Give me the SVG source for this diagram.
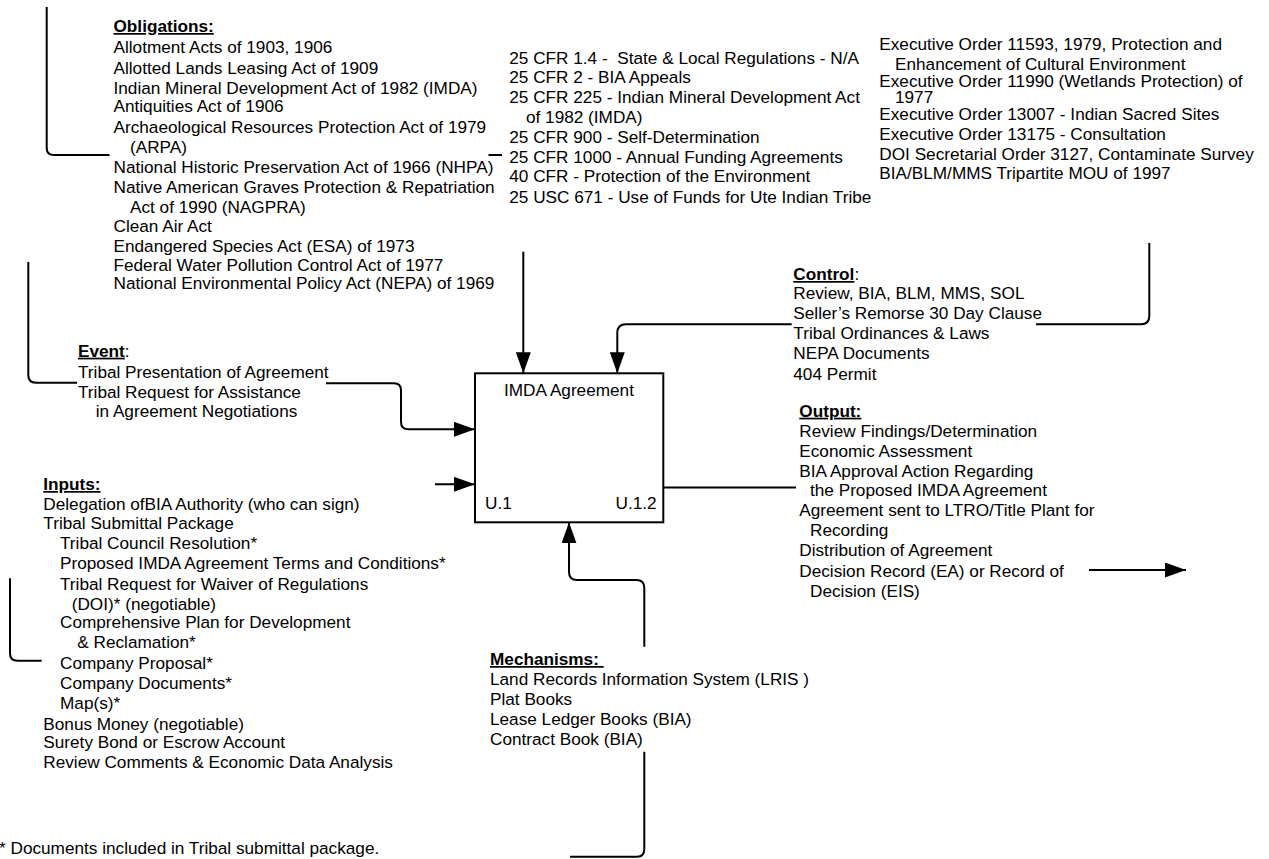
<svg xmlns="http://www.w3.org/2000/svg" width="1269" height="859" viewBox="0 0 1269 859">
  <style>
    .t { font-family: "Liberation Sans", Arial, Helvetica, sans-serif; font-size: 17.2px; fill: #000; }
    .h { font-weight: bold; text-decoration: underline; }
    .c { fill: none; stroke: #000; stroke-width: 2; }
    .a { marker-end: url(#arrow); }
    .box { fill: #fff; stroke: #000; stroke-width: 2; }
  </style>
  <defs>
    <marker id="arrow" markerUnits="userSpaceOnUse" markerWidth="21" markerHeight="15" refX="21" refY="7.5" orient="auto">
      <path d="M0,0 L21,7.5 L0,15 z" fill="#000"/>
    </marker>
  </defs>

  <rect width="1269" height="859" fill="#fff"/>

  <!-- connectors -->
  <g id="connectors">
    <!-- obligations bracket and feed into the box top -->
    <path class="c" d="M46.7,7 V148 Q46.7,155 54,155 H109.5"/>
    <path class="c" d="M488.5,155 H502"/>
    <path class="c a" d="M523.3,251.7 V373.3"/>
    <!-- control feed -->
    <path class="c" d="M1149.3,243 V316 Q1149.3,324.3 1141,324.3 H1036"/>
    <path class="c a" d="M791.7,324.3 H626 Q617.3,324.3 617.3,333 V373.3"/>
    <!-- event feed -->
    <path class="c" d="M28.3,262 V375 Q28.3,382.7 36,382.7 H77"/>
    <path class="c a" d="M326,383.3 H394 Q401,383.3 401,390.5 V422 Q401,429.3 408.5,429.3 H475"/>
    <!-- inputs feed -->
    <path class="c" d="M10,578.3 V653.5 Q10,660.7 17.5,660.7 H41.7"/>
    <path class="c a" d="M435,484.3 H475"/>
    <!-- output -->
    <path class="c" d="M663.3,487.5 H796"/>
    <path class="c a" d="M1089,570 H1186"/>
    <!-- mechanisms feed into the box bottom -->
    <path class="c" d="M570,856.7 H637 Q644.3,856.7 644.3,849 V751.7"/>
    <path class="c a" d="M644.3,646.7 V588 Q644.3,580 636.5,580 H577 Q569,580 569,572 V522.3"/>
  </g>

  <!-- activity box -->
  <g id="imda-agreement">
    <rect class="box" x="475" y="373.3" width="188.3" height="149"/>
    <text class="t" x="569" y="396" text-anchor="middle">IMDA Agreement</text>
    <text class="t" x="485" y="509">U.1</text>
    <text class="t" x="656.7" y="508.5" text-anchor="end">U.1.2</text>
  </g>

  <g id="obligations">
    <text class="t">
      <tspan class="h" x="113.5" y="32">Obligations:</tspan>
      <tspan x="113.5" y="53">Allotment Acts of 1903, 1906</tspan>
      <tspan x="113.5" y="74">Allotted Lands Leasing Act of 1909</tspan>
      <tspan x="113.5" y="94">Indian Mineral Development Act of 1982 (IMDA)</tspan>
      <tspan x="113.5" y="111.5">Antiquities Act of 1906</tspan>
      <tspan x="113.5" y="133">Archaeological Resources Protection Act of 1979</tspan>
      <tspan x="130" y="153">(ARPA)</tspan>
      <tspan x="113.5" y="173">National Historic Preservation Act of 1966 (NHPA)</tspan>
      <tspan x="113.5" y="192.5">Native American Graves Protection &amp; Repatriation</tspan>
      <tspan x="130" y="213">Act of 1990 (NAGPRA)</tspan>
      <tspan x="113.5" y="231.5">Clean Air Act</tspan>
      <tspan x="113.5" y="251.5">Endangered Species Act (ESA) of 1973</tspan>
      <tspan x="113.5" y="270.5">Federal Water Pollution Control Act of 1977</tspan>
      <tspan x="113.5" y="289">National Environmental Policy Act (NEPA) of 1969</tspan>
    </text>
  </g>

  <g id="regulations">
    <text class="t" x="509.3" y="64" xml:space="preserve">25 CFR 1.4 -  State &amp; Local Regulations - N/A</text>
    <text class="t">
      <tspan x="509.3" y="82.5">25 CFR 2 - BIA Appeals</tspan>
      <tspan x="509.3" y="103.3">25 CFR 225 - Indian Mineral Development Act</tspan>
      <tspan x="526" y="123.3">of 1982 (IMDA)</tspan>
      <tspan x="509.3" y="143.3">25 CFR 900 - Self-Determination</tspan>
      <tspan x="509.3" y="163.3">25 CFR 1000 - Annual Funding Agreements</tspan>
      <tspan x="509.3" y="181.7">40 CFR - Protection of the Environment</tspan>
      <tspan x="509.3" y="202.7">25 USC 671 - Use of Funds for Ute Indian Tribe</tspan>
    </text>
  </g>

  <g id="executive-orders">
    <text class="t">
      <tspan x="879.3" y="50">Executive Order 11593, 1979, Protection and</tspan>
      <tspan x="895" y="70">Enhancement of Cultural Environment</tspan>
      <tspan x="879.3" y="87.3">Executive Order 11990 (Wetlands Protection) of</tspan>
      <tspan x="895" y="102.7">1977</tspan>
      <tspan x="879.3" y="120">Executive Order 13007 - Indian Sacred Sites</tspan>
      <tspan x="879.3" y="140">Executive Order 13175 - Consultation</tspan>
      <tspan x="879.3" y="160">DOI Secretarial Order 3127, Contaminate Survey</tspan>
      <tspan x="879.3" y="179">BIA/BLM/MMS Tripartite MOU of 1997</tspan>
    </text>
  </g>

  <g id="control">
    <text class="t" x="793.3" y="280"><tspan class="h">Control</tspan>:</text>
    <text class="t">
      <tspan x="793.3" y="299.3">Review, BIA, BLM, MMS, SOL</tspan>
      <tspan x="793.3" y="318.5">Seller’s Remorse 30 Day Clause</tspan>
      <tspan x="793.3" y="339">Tribal Ordinances &amp; Laws</tspan>
      <tspan x="793.3" y="359">NEPA Documents</tspan>
      <tspan x="793.3" y="380">404 Permit</tspan>
    </text>
  </g>

  <g id="output">
    <text class="t">
      <tspan class="h" x="799.3" y="416.7">Output:</tspan>
      <tspan x="799.3" y="436.7">Review Findings/Determination</tspan>
      <tspan x="799.3" y="456.7">Economic Assessment</tspan>
      <tspan x="799.3" y="476.7">BIA Approval Action Regarding</tspan>
      <tspan x="810" y="495.7">the Proposed IMDA Agreement</tspan>
      <tspan x="799.3" y="516">Agreement sent to LTRO/Title Plant for</tspan>
      <tspan x="810" y="536">Recording</tspan>
      <tspan x="799.3" y="555.7">Distribution of Agreement</tspan>
      <tspan x="799.3" y="576.7">Decision Record (EA) or Record of</tspan>
      <tspan x="810" y="596.7">Decision (EIS)</tspan>
    </text>
  </g>

  <g id="event">
    <text class="t" x="78" y="356.7"><tspan class="h">Event</tspan>:</text>
    <text class="t">
      <tspan x="78" y="378.3">Tribal Presentation of Agreement</tspan>
      <tspan x="78" y="397.7">Tribal Request for Assistance</tspan>
      <tspan x="95.7" y="416.7">in Agreement Negotiations</tspan>
    </text>
  </g>

  <g id="inputs">
    <text class="t">
      <tspan class="h" x="43.3" y="490">Inputs:</tspan>
      <tspan x="43.3" y="510">Delegation ofBIA Authority (who can sign)</tspan>
      <tspan x="43.3" y="529.3">Tribal Submittal Package</tspan>
      <tspan x="60" y="549.3">Tribal Council Resolution*</tspan>
      <tspan x="60" y="569.3">Proposed IMDA Agreement Terms and Conditions*</tspan>
      <tspan x="60" y="590">Tribal Request for Waiver of Regulations</tspan>
      <tspan x="71.7" y="610">(DOI)* (negotiable)</tspan>
      <tspan x="60" y="628.3">Comprehensive Plan for Development</tspan>
      <tspan x="77.3" y="648.3">&amp; Reclamation*</tspan>
      <tspan x="60" y="669.3">Company Proposal*</tspan>
      <tspan x="60" y="689.3">Company Documents*</tspan>
      <tspan x="60" y="709.3">Map(s)*</tspan>
      <tspan x="43.3" y="730">Bonus Money (negotiable)</tspan>
      <tspan x="43.3" y="748.3">Surety Bond or Escrow Account</tspan>
      <tspan x="43.3" y="768.3">Review Comments &amp; Economic Data Analysis</tspan>
    </text>
  </g>

  <g id="mechanisms">
    <text class="t h" x="490" y="665" xml:space="preserve">Mechanisms: </text>
    <text class="t">
      <tspan x="490" y="685">Land Records Information System (LRIS )</tspan>
      <tspan x="490" y="705">Plat Books</tspan>
      <tspan x="490" y="725">Lease Ledger Books (BIA)</tspan>
      <tspan x="490" y="745">Contract Book (BIA)</tspan>
    </text>
  </g>

  <g id="footnote">
    <text class="t" x="-1" y="853.5">* Documents included in Tribal submittal package.</text>
  </g>
</svg>
